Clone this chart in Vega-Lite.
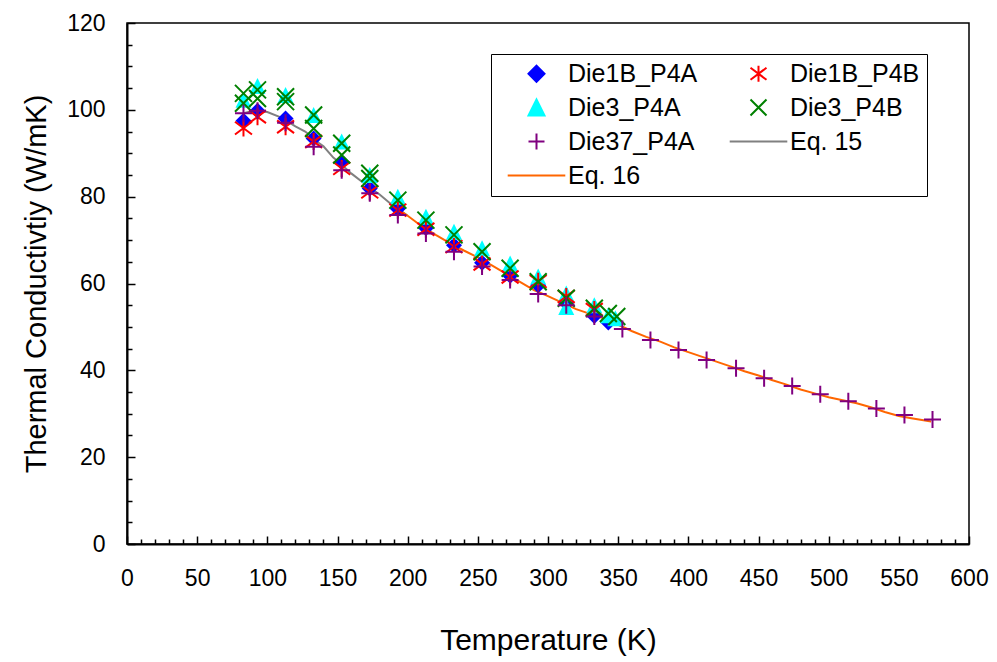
{
  "$schema": "https://vega.github.io/schema/vega-lite/v6.json",
  "autosize": {"type": "none"},
  "width": 842,
  "height": 521,
  "padding": {"left": 127, "top": 23, "right": 28, "bottom": 118},
  "background": "white",
  "datasets": {
    "eq15": [
      {"series": "Eq. 15", "T": 83, "k": 99.2},
      {"series": "Eq. 15", "T": 88, "k": 99.6},
      {"series": "Eq. 15", "T": 95, "k": 99.7},
      {"series": "Eq. 15", "T": 100, "k": 99.5},
      {"series": "Eq. 15", "T": 110, "k": 98.2},
      {"series": "Eq. 15", "T": 116, "k": 97.0},
      {"series": "Eq. 15", "T": 120, "k": 96.2},
      {"series": "Eq. 15", "T": 127, "k": 95.0},
      {"series": "Eq. 15", "T": 130, "k": 94.2},
      {"series": "Eq. 15", "T": 137, "k": 92.3},
      {"series": "Eq. 15", "T": 140, "k": 91.6},
      {"series": "Eq. 15", "T": 147, "k": 89.0},
      {"series": "Eq. 15", "T": 150, "k": 88.2},
      {"series": "Eq. 15", "T": 160, "k": 85.3},
      {"series": "Eq. 15", "T": 170, "k": 82.8},
      {"series": "Eq. 15", "T": 180, "k": 80.5},
      {"series": "Eq. 15", "T": 187, "k": 78.6},
      {"series": "Eq. 15", "T": 195, "k": 76.8},
      {"series": "Eq. 15", "T": 200, "k": 75.6}
    ],
    "eq16": [
      {"series": "Eq. 16", "T": 190, "k": 77.8},
      {"series": "Eq. 16", "T": 200, "k": 75.6},
      {"series": "Eq. 16", "T": 210, "k": 73.2},
      {"series": "Eq. 16", "T": 220, "k": 71.2},
      {"series": "Eq. 16", "T": 230, "k": 69.3},
      {"series": "Eq. 16", "T": 240, "k": 67.6},
      {"series": "Eq. 16", "T": 250, "k": 66.0},
      {"series": "Eq. 16", "T": 260, "k": 64.2},
      {"series": "Eq. 16", "T": 270, "k": 62.3},
      {"series": "Eq. 16", "T": 280, "k": 60.4},
      {"series": "Eq. 16", "T": 290, "k": 58.5},
      {"series": "Eq. 16", "T": 300, "k": 57.1},
      {"series": "Eq. 16", "T": 310, "k": 55.6},
      {"series": "Eq. 16", "T": 320, "k": 54.1},
      {"series": "Eq. 16", "T": 330, "k": 53.0},
      {"series": "Eq. 16", "T": 340, "k": 51.9},
      {"series": "Eq. 16", "T": 350, "k": 50.5},
      {"series": "Eq. 16", "T": 360, "k": 49.0},
      {"series": "Eq. 16", "T": 370, "k": 47.7},
      {"series": "Eq. 16", "T": 380, "k": 46.6},
      {"series": "Eq. 16", "T": 390, "k": 45.3},
      {"series": "Eq. 16", "T": 400, "k": 44.2},
      {"series": "Eq. 16", "T": 410, "k": 43.1},
      {"series": "Eq. 16", "T": 420, "k": 42.0},
      {"series": "Eq. 16", "T": 430, "k": 40.9},
      {"series": "Eq. 16", "T": 440, "k": 39.8},
      {"series": "Eq. 16", "T": 450, "k": 38.8},
      {"series": "Eq. 16", "T": 460, "k": 37.7},
      {"series": "Eq. 16", "T": 470, "k": 36.7},
      {"series": "Eq. 16", "T": 480, "k": 35.6},
      {"series": "Eq. 16", "T": 490, "k": 34.7},
      {"series": "Eq. 16", "T": 500, "k": 33.8},
      {"series": "Eq. 16", "T": 510, "k": 33.1},
      {"series": "Eq. 16", "T": 520, "k": 32.4},
      {"series": "Eq. 16", "T": 530, "k": 31.5},
      {"series": "Eq. 16", "T": 540, "k": 30.4},
      {"series": "Eq. 16", "T": 550, "k": 29.5},
      {"series": "Eq. 16", "T": 560, "k": 28.9},
      {"series": "Eq. 16", "T": 573, "k": 28.2}
    ],
    "filled": [
      {"series": "Die1B_P4A", "T": 83, "k": 97.5},
      {"series": "Die1B_P4A", "T": 93, "k": 99.8},
      {"series": "Die1B_P4A", "T": 113, "k": 98.0},
      {"series": "Die1B_P4A", "T": 133, "k": 93.4},
      {"series": "Die1B_P4A", "T": 153, "k": 88.0},
      {"series": "Die1B_P4A", "T": 173, "k": 81.9},
      {"series": "Die1B_P4A", "T": 193, "k": 77.2},
      {"series": "Die1B_P4A", "T": 213, "k": 72.8},
      {"series": "Die1B_P4A", "T": 233, "k": 68.8},
      {"series": "Die1B_P4A", "T": 253, "k": 64.8},
      {"series": "Die1B_P4A", "T": 273, "k": 61.8},
      {"series": "Die1B_P4A", "T": 293, "k": 59.6},
      {"series": "Die1B_P4A", "T": 313, "k": 55.5},
      {"series": "Die1B_P4A", "T": 333, "k": 52.5},
      {"series": "Die1B_P4A", "T": 343, "k": 51.0},
      {"series": "Die3_P4A", "T": 83, "k": 102.3},
      {"series": "Die3_P4A", "T": 93, "k": 105.5},
      {"series": "Die3_P4A", "T": 113, "k": 103.4},
      {"series": "Die3_P4A", "T": 133, "k": 98.8},
      {"series": "Die3_P4A", "T": 153, "k": 92.7},
      {"series": "Die3_P4A", "T": 173, "k": 85.0},
      {"series": "Die3_P4A", "T": 193, "k": 80.0},
      {"series": "Die3_P4A", "T": 213, "k": 75.4},
      {"series": "Die3_P4A", "T": 233, "k": 71.9},
      {"series": "Die3_P4A", "T": 253, "k": 68.1},
      {"series": "Die3_P4A", "T": 273, "k": 64.6},
      {"series": "Die3_P4A", "T": 293, "k": 61.6},
      {"series": "Die3_P4A", "T": 313, "k": 57.7},
      {"series": "Die3_P4A", "T": 313, "k": 54.6},
      {"series": "Die3_P4A", "T": 333, "k": 55.0},
      {"series": "Die3_P4A", "T": 343, "k": 52.7},
      {"series": "Die3_P4A", "T": 348, "k": 52.0}
    ],
    "stroked": [
      {"series": "Die1B_P4B", "T": 83, "k": 95.8},
      {"series": "Die1B_P4B", "T": 93, "k": 98.4},
      {"series": "Die1B_P4B", "T": 113, "k": 96.1},
      {"series": "Die1B_P4B", "T": 133, "k": 92.7},
      {"series": "Die1B_P4B", "T": 153, "k": 86.5},
      {"series": "Die1B_P4B", "T": 173, "k": 81.1},
      {"series": "Die1B_P4B", "T": 193, "k": 76.9},
      {"series": "Die1B_P4B", "T": 213, "k": 72.5},
      {"series": "Die1B_P4B", "T": 233, "k": 68.5},
      {"series": "Die1B_P4B", "T": 253, "k": 64.5},
      {"series": "Die1B_P4B", "T": 273, "k": 61.5},
      {"series": "Die1B_P4B", "T": 293, "k": 60.5},
      {"series": "Die1B_P4B", "T": 313, "k": 57.0},
      {"series": "Die1B_P4B", "T": 333, "k": 54.0},
      {"series": "Die3_P4B", "T": 83, "k": 103.8},
      {"series": "Die3_P4B", "T": 83, "k": 101.5},
      {"series": "Die3_P4B", "T": 93, "k": 104.6},
      {"series": "Die3_P4B", "T": 93, "k": 102.6},
      {"series": "Die3_P4B", "T": 113, "k": 101.9},
      {"series": "Die3_P4B", "T": 113, "k": 103.0},
      {"series": "Die3_P4B", "T": 133, "k": 98.8},
      {"series": "Die3_P4B", "T": 133, "k": 95.7},
      {"series": "Die3_P4B", "T": 153, "k": 92.3},
      {"series": "Die3_P4B", "T": 153, "k": 89.6},
      {"series": "Die3_P4B", "T": 173, "k": 85.4},
      {"series": "Die3_P4B", "T": 173, "k": 84.2},
      {"series": "Die3_P4B", "T": 193, "k": 79.2},
      {"series": "Die3_P4B", "T": 213, "k": 74.6},
      {"series": "Die3_P4B", "T": 233, "k": 71.2},
      {"series": "Die3_P4B", "T": 253, "k": 67.3},
      {"series": "Die3_P4B", "T": 273, "k": 63.5},
      {"series": "Die3_P4B", "T": 293, "k": 60.4},
      {"series": "Die3_P4B", "T": 313, "k": 56.6},
      {"series": "Die3_P4B", "T": 333, "k": 54.3},
      {"series": "Die3_P4B", "T": 343, "k": 53.1},
      {"series": "Die3_P4B", "T": 349, "k": 52.4},
      {"series": "Die37_P4A", "T": 83, "k": 99.2},
      {"series": "Die37_P4A", "T": 93, "k": 99.8},
      {"series": "Die37_P4A", "T": 113, "k": 97.0},
      {"series": "Die37_P4A", "T": 133, "k": 91.5},
      {"series": "Die37_P4A", "T": 153, "k": 86.1},
      {"series": "Die37_P4A", "T": 173, "k": 80.8},
      {"series": "Die37_P4A", "T": 193, "k": 75.8},
      {"series": "Die37_P4A", "T": 213, "k": 71.5},
      {"series": "Die37_P4A", "T": 233, "k": 67.3},
      {"series": "Die37_P4A", "T": 253, "k": 63.9},
      {"series": "Die37_P4A", "T": 273, "k": 60.8},
      {"series": "Die37_P4A", "T": 293, "k": 57.6},
      {"series": "Die37_P4A", "T": 313, "k": 55.0},
      {"series": "Die37_P4A", "T": 333, "k": 52.4},
      {"series": "Die37_P4A", "T": 353, "k": 49.5},
      {"series": "Die37_P4A", "T": 373, "k": 47.0},
      {"series": "Die37_P4A", "T": 393, "k": 44.7},
      {"series": "Die37_P4A", "T": 413, "k": 42.4},
      {"series": "Die37_P4A", "T": 434, "k": 40.5},
      {"series": "Die37_P4A", "T": 454, "k": 38.2},
      {"series": "Die37_P4A", "T": 474, "k": 36.4},
      {"series": "Die37_P4A", "T": 494, "k": 34.5},
      {"series": "Die37_P4A", "T": 514, "k": 32.9},
      {"series": "Die37_P4A", "T": 534, "k": 31.2},
      {"series": "Die37_P4A", "T": 554, "k": 29.7},
      {"series": "Die37_P4A", "T": 574, "k": 28.7}
    ]
  },
  "encoding": {
    "x": {
      "field": "T", "type": "quantitative",
      "scale": {"domain": [0, 600], "nice": false, "zero": false},
      "axis": {
        "title": "Temperature (K)",
        "values": [0,10,20,30,40,50,60,70,80,90,100,110,120,130,140,150,160,170,180,190,200,210,220,230,240,250,260,270,280,290,300,310,320,330,340,350,360,370,380,390,400,410,420,430,440,450,460,470,480,490,500,510,520,530,540,550,560,570,580,590,600],
        "labelExpr": "datum.value % 50 === 0 ? datum.label : ''",
        "tickSize": {"condition": {"test": "datum.value % 50 === 0", "value": -8}, "value": -5},
        "labelPadding": 31,
        "titlePadding": 32,
        "titleFontSize": 30,
        "labelOverlap": false,
        "labelFlush": false
      }
    },
    "y": {
      "field": "k", "type": "quantitative",
      "scale": {"domain": [0, 120], "nice": false},
      "axis": {
        "title": "Thermal Conductivtiy (W/mK)",
        "values": [0,5,10,15,20,25,30,35,40,45,50,55,60,65,70,75,80,85,90,95,100,105,110,115,120],
        "labelExpr": "datum.value % 20 === 0 ? datum.label : ''",
        "tickSize": {"condition": {"test": "datum.value % 20 === 0", "value": -8}, "value": -5},
        "labelPadding": 30,
        "titlePadding": 15,
        "labelOverlap": false,
        "labelFlush": false
      }
    },
    "color": {
      "field": "series", "type": "nominal",
      "scale": {
        "domain": ["Die1B_P4A", "Die1B_P4B", "Die3_P4A", "Die3_P4B", "Die37_P4A", "Eq. 15", "Eq. 16"],
        "range": ["#0000ff", "#ff0000", "#00ffff", "#008000", "#800080", "#808080", "#ff6600"]
      },
      "legend": {
        "title": null,
        "orient": "none",
        "legendX": 364,
        "legendY": 31,
        "direction": "horizontal",
        "columns": 2,
        "padding": 7,
        "fillColor": "white",
        "strokeColor": "black",
        "labelFont": "Liberation Sans",
        "labelFontSize": 25,
        "labelColor": "black",
        "labelLimit": 0,
        "symbolSize": 256,
        "symbolStrokeWidth": 2,
        "symbolOffset": 26,
        "labelOffset": 19,
        "columnPadding": 22,
        "rowPadding": 8,
        "encode": {
          "symbols": {
            "update": {
              "shape": {"signal": "datum.value === 'Die1B_P4A' ? 'diamond' : datum.value === 'Die1B_P4B' ? 'M-1,-0.75L1,0.75M-1,0.75L1,-0.75M0,-1L0,1' : datum.value === 'Die3_P4A' ? 'M0,-1L1,1L-1,1Z' : datum.value === 'Die3_P4B' ? 'M-1,-1L1,1M-1,1L1,-1' : datum.value === 'Die37_P4A' ? 'M-1,0L1,0M0,-1L0,1' : 'M-3.6,0L3.6,0'"},
              "fill": {"signal": "datum.value === 'Die1B_P4A' ? '#0000ff' : datum.value === 'Die3_P4A' ? '#00ffff' : 'transparent'"},
              "stroke": {"signal": "datum.value === 'Die1B_P4A' ? '#0000ff' : datum.value === 'Die1B_P4B' ? '#ff0000' : datum.value === 'Die3_P4A' ? '#00ffff' : datum.value === 'Die3_P4B' ? '#008000' : datum.value === 'Die37_P4A' ? '#800080' : datum.value === 'Eq. 15' ? '#808080' : '#ff6600'"},
              "strokeWidth": {"value": 2},
              "opacity": {"value": 1}
            }
          }
        }
      }
    }
  },
  "layer": [
    {"data": {"name": "eq15"}, "mark": {"type": "line", "strokeWidth": 2}},
    {"data": {"name": "eq16"}, "mark": {"type": "line", "strokeWidth": 2}},
    {
      "data": {"name": "filled"},
      "mark": {"type": "point", "filled": true, "size": 256, "opacity": 1, "strokeWidth": 0},
      "encoding": {
        "shape": {
          "field": "series", "type": "nominal", "legend": null,
          "scale": {
            "domain": ["Die1B_P4A", "Die1B_P4B", "Die3_P4A", "Die3_P4B", "Die37_P4A"],
            "range": ["diamond", "M-1,-0.75L1,0.75M-1,0.75L1,-0.75M0,-1L0,1", "M0,-1L1,1L-1,1Z", "M-1,-1L1,1M-1,1L1,-1", "M-1,0L1,0M0,-1L0,1"]
          }
        }
      }
    },
    {
      "data": {"name": "stroked"},
      "mark": {"type": "point", "filled": false, "size": 289, "opacity": 1, "strokeWidth": 2},
      "encoding": {
        "shape": {
          "field": "series", "type": "nominal", "legend": null,
          "scale": {
            "domain": ["Die1B_P4A", "Die1B_P4B", "Die3_P4A", "Die3_P4B", "Die37_P4A"],
            "range": ["diamond", "M-1,-0.75L1,0.75M-1,0.75L1,-0.75M0,-1L0,1", "M0,-1L1,1L-1,1Z", "M-1,-1L1,1M-1,1L1,-1", "M-1,0L1,0M0,-1L0,1"]
          }
        }
      }
    }
  ],
  "config": {
    "view": {"stroke": "black", "strokeWidth": 1.5},
    "axis": {
      "grid": false,
      "domainColor": "black",
      "domainWidth": 2,
      "tickColor": "black",
      "tickWidth": 1.5,
      "labelColor": "black",
      "labelFont": "Liberation Sans",
      "labelFontSize": 23,
      "titleFont": "Liberation Sans",
      "titleFontSize": 29,
      "titleFontWeight": "normal",
      "titleColor": "black"
    }
  }
}
